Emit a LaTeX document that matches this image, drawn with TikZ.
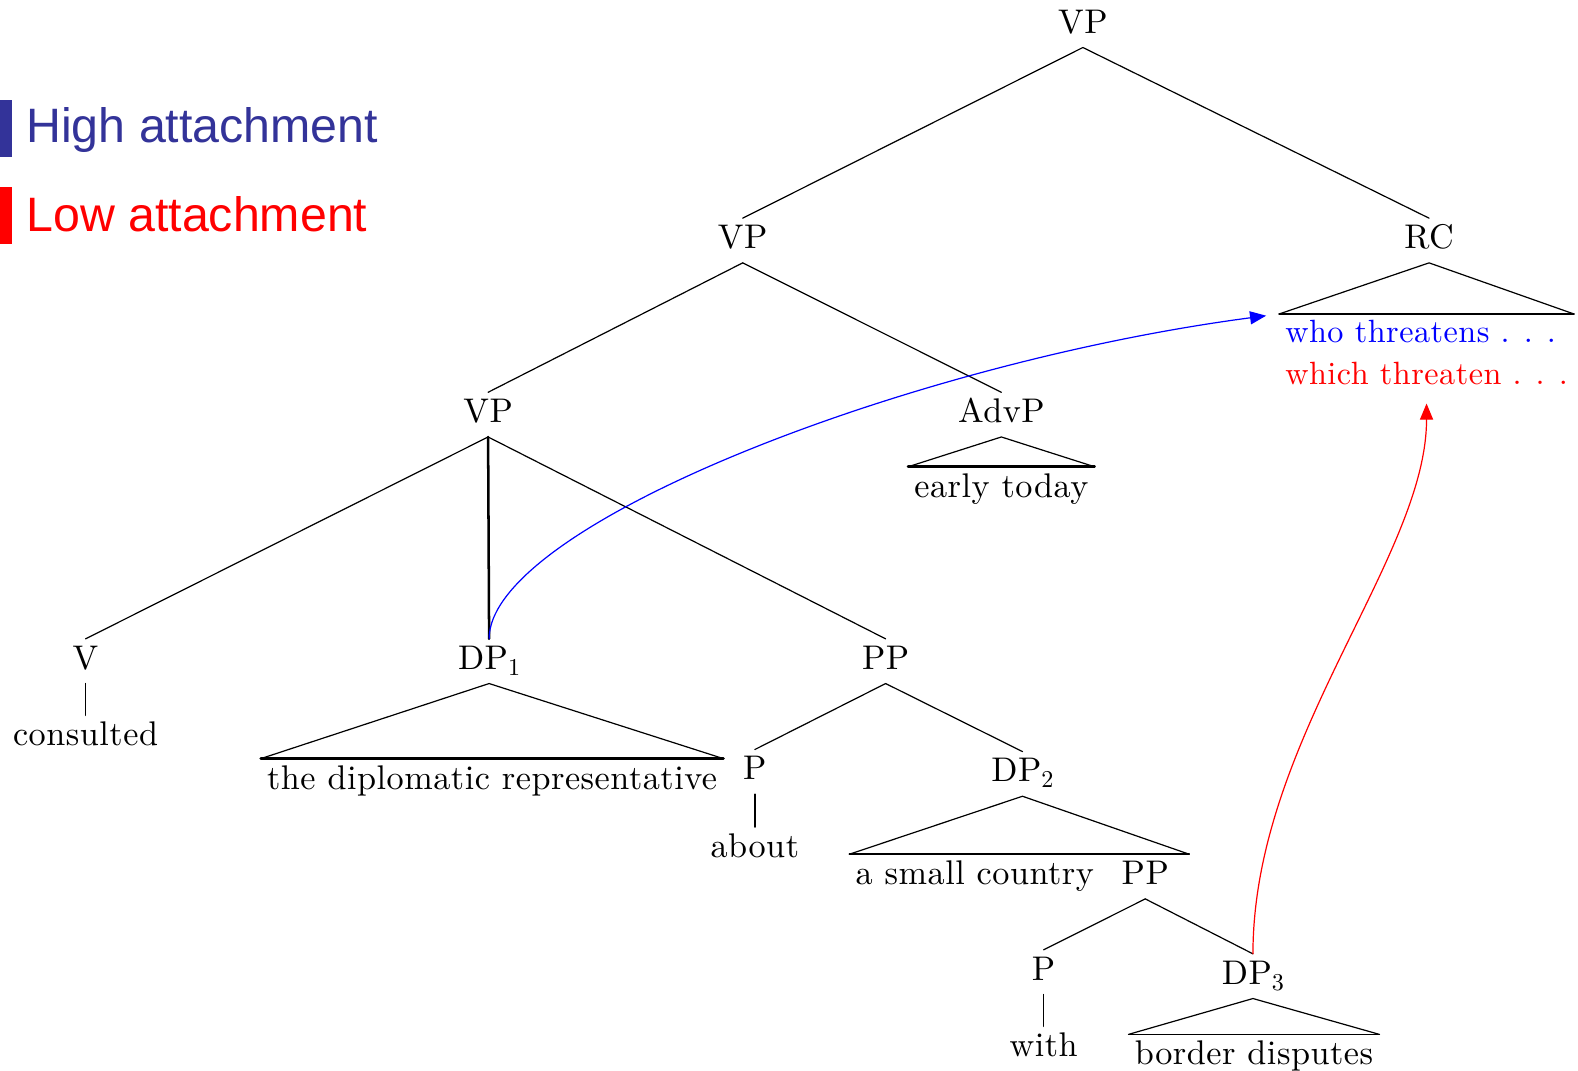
\documentclass[tikz,border=0pt]{standalone}
\usepackage{fontspec}
\newfontfamily\legendfont{Liberation Sans}
\newfontfamily\treefont{lmroman10-regular.otf}[LetterSpace=1.5]
\usetikzlibrary{arrows.meta}
\definecolor{highblue}{RGB}{51,51,153}
\newcommand{\sub}[1]{\raisebox{-6pt}{\fontsize{24}{24}\selectfont #1}}
\newcommand{\dotsrc}{.\hspace{14pt}.\hspace{14pt}.}
\begin{document}
\begin{tikzpicture}[x=1pt, y=-1pt, font=\treefont\fontsize{34}{42}\selectfont, line join=round, line cap=round, >={Triangle[length=16pt,width=13pt]},
	cat/.style={anchor=base, inner sep=6pt, text height=24pt, text depth=8pt},
	branch/.style={line width=1.2pt},
	legend/.style={anchor=base west, inner sep=0pt, font=\legendfont\fontsize{48}{50}\selectfont}]
	\useasboundingbox (0,0) rectangle (1568,1064);
	% legend
	\fill[highblue] (0,99) rectangle (12,156);
	\fill[red] (0,186) rectangle (12,242);
	\node[legend, text=highblue] (high) at (26,142) {High attachment};
	\node[legend, text=red] (low) at (26,230) {Low attachment};
	% categories
	\node[cat] (vpa) at (1076,33) {VP};
	\node[cat] (vpb) at (738,247) {VP};
	\node[cat] (rc) at (1420,247) {RC};
	\node[cat] (vpc) at (485,420) {VP};
	\node[cat] (advp) at (995,420) {AdvP};
	\node[cat] (v) at (85,665) {V};
	\node[cat] (dpa) at (486,665) {DP\sub{1}};
	\node[cat] (ppa) at (880,665) {PP};
	\node[cat] (pa) at (750,775) {P};
	\node[cat] (dpb) at (1016,777) {DP\sub{2}};
	\node[cat] (ppb) at (1138,879) {PP};
	\node[cat] (pb) at (1037,974) {P};
	\node[cat] (dpc) at (1245,978) {DP\sub{3}};
	% words
	\node[cat] (consulted) at (85,741) {consulted};
	\node[cat] (about) at (750,852) {about};
	\node[cat] (with) at (1037,1050) {with};
	\node[cat] (diplo) at (489,784) {the diplomatic representative};
	\node[cat] (early) at (995,494) {early today};
	\node[cat, anchor=base west] (country) at (844,879) {a small country};
	\node[cat] (border) at (1246,1058) {border disputes};
	\node[anchor=north west, inner sep=6pt, align=left, font=\treefont\fontsize{32}{42}\selectfont] (rcleaf) at (1271,312)
		{\textcolor{blue}{who threatens \dotsrc}\\\textcolor{red}{which threaten \dotsrc}};
	% branches
	\foreach \a/\b in {vpa/vpb, vpa/rc, vpb/vpc, vpb/advp, vpc/v, vpc/ppa, ppa/pa, ppa/dpb, ppb/pb, ppb/dpc}
		\draw[branch] (\a.south) -- (\b.north);
	\draw[line width=2.5pt] (vpc.south) -- (dpa.north);
	\foreach \a/\b in {v/consulted, pa/about, pb/with}
		\draw[line width=1.5pt] (\a.south) -- (\b.north);
	% triangles
	\foreach \a/\b/\w in {rc/rcleaf/1.6pt, advp/early/2.8pt, dpa/diplo/2.8pt, dpc/border/1.6pt}
	{
		\draw[branch] (\b.north west) -- (\a.south) -- (\b.north east);
		\draw[line width=\w] (\b.north west) -- (\b.north east);
	}
	\draw[branch] (country.north west) -- (dpb.south) -- ([xshift=14pt]ppb.north east);
	\draw[line width=1.6pt] (country.north west) -- ([xshift=14pt]ppb.north east);
	% attachments
	\draw[blue, branch, ->, shorten >=13pt] (dpa.north) .. controls +(0,-112) and +(-371,49) .. (rcleaf.north west);
	\draw[red, branch, ->, shorten >=12pt] (dpc.north) .. controls +(0,-212) and +(0,165) .. (rcleaf.south);
\end{tikzpicture}
\end{document}
